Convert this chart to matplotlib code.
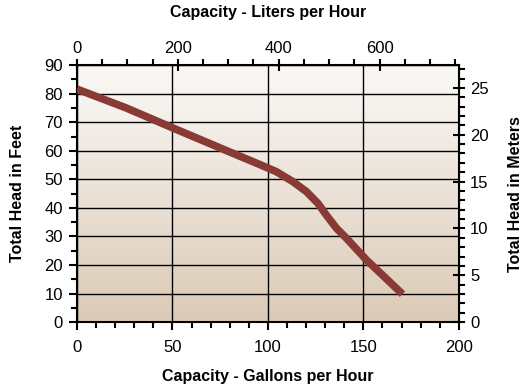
import matplotlib
matplotlib.use("Agg")
import matplotlib.pyplot as plt
import numpy as np
from matplotlib.ticker import MultipleLocator
from matplotlib.colors import LinearSegmentedColormap

plt.rcParams['font.family'] = ['Liberation Sans', 'DejaVu Sans']

# Data
gph = [0, 25.8, 50.2, 78.2, 95.7, 104.4, 113.1, 120.2, 126.2, 130.6, 135.9,
       141.1, 151.6, 160.0, 170.5]
head_ft = [81.6, 75.0, 68.0, 60.1, 55.2, 52.7, 49.2, 45.7, 41.6, 37.5, 32.9,
           29.4, 21.8, 16.5, 9.8]

x_label_bottom = "Capacity - Gallons per Hour"
x_label_top = "Capacity - Liters per Hour"
y_label_left = "Total Head in Feet"
y_label_right = "Total Head in Meters"

L_PER_GAL = 3.78541
M_PER_FT = 0.3048

fig = plt.figure(figsize=(5.31, 3.90), dpi=100)
ax = fig.add_axes([0.145, 0.174, 0.719, 0.659])

ax.set_xlim(0, 200)
ax.set_ylim(0, 90)

# gradient background
cmap = LinearSegmentedColormap.from_list("bg", ["#dbcab6", "#fbf9f7"])
grad = np.linspace(0, 1, 256).reshape(-1, 1)
ax.imshow(grad, extent=[0, 1, 0, 1], transform=ax.transAxes, cmap=cmap,
          origin="lower", aspect="auto", zorder=0)

ax.set_xticks(np.arange(0, 201, 50))
ax.set_yticks(np.arange(0, 91, 10))
ax.xaxis.set_minor_locator(MultipleLocator(10))
ax.yaxis.set_minor_locator(MultipleLocator(5))
ax.grid(True, which="major", color="black", linewidth=1.0, zorder=1)
ax.set_axisbelow(True)

ax.plot(gph, head_ft, color="#8a3a35", linewidth=5.5, solid_capstyle="butt",
        solid_joinstyle="round", zorder=3)

for s in ax.spines.values():
    s.set_linewidth(1.5)
    s.set_color("black")

ax.tick_params(axis="both", which="major", direction="out", length=6, width=1.5,
               labelsize=12, color="black")
ax.tick_params(axis="both", which="minor", direction="out", length=4, width=1.5)
ax.tick_params(axis="x", which="major", pad=7)
ax.tick_params(axis="y", which="major", pad=4)

ax.set_xlabel(x_label_bottom, fontsize=11.5, fontweight="bold", labelpad=10)
ax.set_ylabel(y_label_left, fontsize=11.5, fontweight="bold", labelpad=14)

top = ax.secondary_xaxis("top", functions=(lambda g: g * L_PER_GAL,
                                             lambda l: l / L_PER_GAL))
top.set_xticks([0, 200, 400, 600])
top.xaxis.set_minor_locator(MultipleLocator(50))
top.tick_params(which="major", direction="inout", length=9, width=1.5, labelsize=12,
                pad=2)
top.tick_params(which="minor", direction="out", length=4, width=1.5)
top.set_xlabel(x_label_top, fontsize=11.5, fontweight="bold", labelpad=17)

right = ax.secondary_yaxis("right", functions=(lambda f: f * M_PER_FT,
                                                 lambda m: m / M_PER_FT))
right.set_yticks([0, 5, 10, 15, 20, 25])
right.yaxis.set_minor_locator(MultipleLocator(1))
right.tick_params(which="major", direction="inout", length=9, width=1.5, labelsize=12)
right.tick_params(which="minor", direction="out", length=4, width=1.5)
right.set_ylabel(y_label_right, fontsize=11.5, fontweight="bold", labelpad=14)

fig.savefig("out.png", dpi=100)
